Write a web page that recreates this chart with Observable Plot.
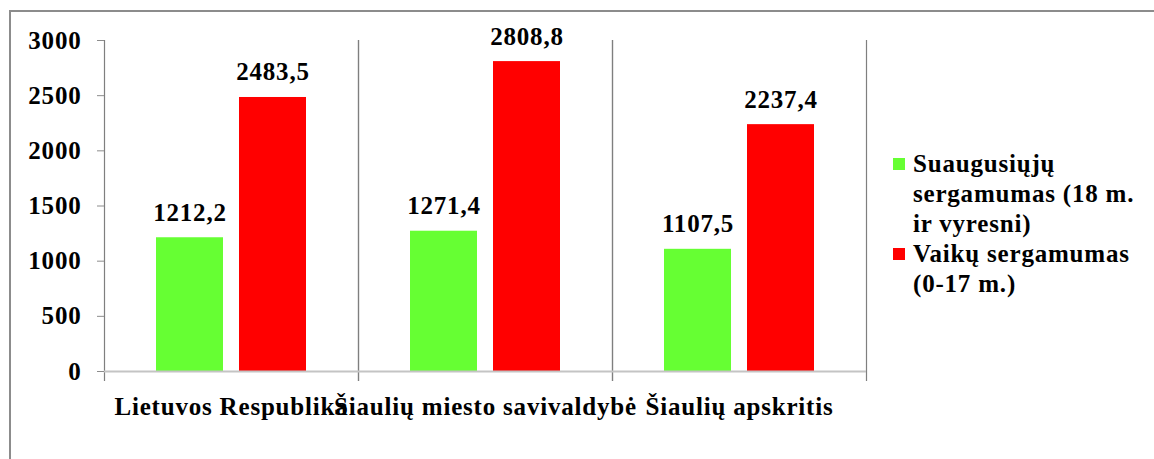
<!DOCTYPE html>
<html><head><meta charset="utf-8">
<script src="https://cdn.jsdelivr.net/npm/d3@7"></script>
<script src="https://cdn.jsdelivr.net/npm/@observablehq/plot@0.6"></script>
<style>
body{margin:0;background:#fff;}
#wrap{position:relative;width:1154px;height:459px;overflow:hidden;background:#fff;}
#frame{position:absolute;left:9px;top:10px;width:1200px;height:500px;border-left:2px solid #8c8c8c;border-top:2px solid #8c8c8c;}
#chart{position:absolute;left:0;top:0;}
#legend{position:absolute;left:893px;top:149px;font-family:"Liberation Serif",serif;font-weight:bold;font-size:25px;letter-spacing:0.8px;line-height:30px;color:#000;}
.item{display:flex;align-items:flex-start;}
.sw{width:12px;height:12px;margin-top:9px;margin-right:8px;flex:none}
.txt{white-space:pre-line}
</style></head>
<body><div id="wrap"><div id="frame"></div><div id="chart"></div><div id="legend"></div></div>
<script>
const categories = ["Lietuvos Respublika", "Šiaulių miesto savivaldybė", "Šiaulių apskritis"];
const series = ["Suaugusiųjų\nsergamumas (18 m.\nir vyresni)", "Vaikų sergamumas\n(0-17 m.)"];
const adults = [1212.2, 1271.4, 1107.5];
const children = [2483.5, 2808.8, 2237.4];
const colors = ["#66ff33", "#ff0000"];
const yTicks = [0, 500, 1000, 1500, 2000, 2500, 3000];

const rows = [];
categories.forEach((c, i) => {
  rows.push({cat: c, ser: series[0], v: adults[i]});
  rows.push({cat: c, ser: series[1], v: children[i]});
});
const fmt = v => v.toFixed(1).replace(".", ",");

const chart = Plot.plot({
  width: 1154,
  height: 459,
  marginLeft: 103,
  marginRight: 287,
  marginTop: 40,
  marginBottom: 88,
  style: {fontFamily: "'Liberation Serif', serif", fontWeight: "bold", fontSize: "25px", background: "transparent", color: "#000", letterSpacing: "0.8px"},
  fx: {domain: categories, padding: 0},
  x: {domain: series, paddingInner: 0.19, paddingOuter: 0.613, axis: null},
  y: {domain: [0, 3000]},
  color: {domain: series, range: colors},
  marks: [
    Plot.frame({anchor: "left", stroke: "#7f7f7f", strokeWidth: 1.2, insetBottom: -9}),
    Plot.frame({anchor: "right", stroke: "#7f7f7f", strokeWidth: 1.2, insetBottom: -9}),
    Plot.barY(rows, {fx: "cat", x: "ser", y: "v", fill: "ser"}),
    Plot.ruleY([0], {stroke: "#c4c4c4", strokeWidth: 2}),
    Plot.text(rows, {fx: "cat", x: "ser", y: "v", text: d => fmt(d.v), dy: -25, fontSize: 25, fill: "#000"}),
    Plot.axisY({ticks: yTicks, tickFormat: "d", tickSize: 7, tickPadding: 16, stroke: "#8c8c8c", label: null, fill: "#000"}),
    Plot.axisFx({anchor: "bottom", tickSize: 0, tickPadding: 26, label: null})
  ]
});
document.getElementById("chart").appendChild(chart);

const legend = document.getElementById("legend");
series.forEach((s, i) => {
  const item = document.createElement("div");
  item.className = "item";
  const sw = document.createElement("div");
  sw.className = "sw";
  sw.style.background = colors[i];
  const t = document.createElement("div");
  t.className = "txt";
  t.textContent = s;
  item.appendChild(sw);
  item.appendChild(t);
  legend.appendChild(item);
});
</script>
</body></html>
